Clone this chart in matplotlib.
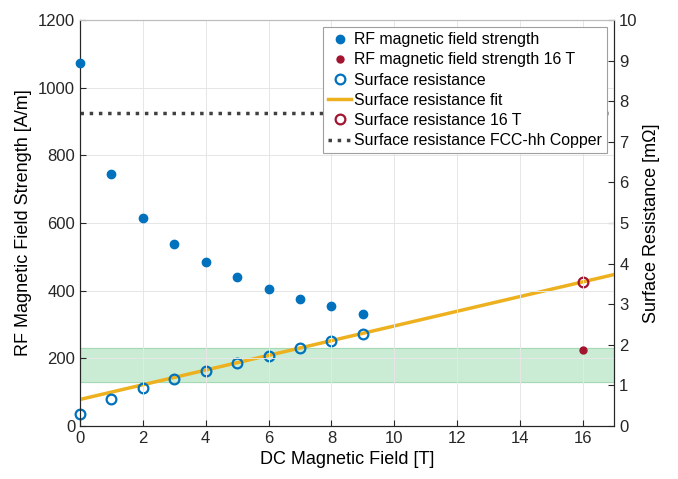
import numpy as np
import matplotlib
matplotlib.use('Agg')
import matplotlib.pyplot as plt
from matplotlib.lines import Line2D

matplotlib.rcParams['font.family'] = ['Liberation Sans', 'DejaVu Sans']

# data
dc_field = [0, 1, 2, 3, 4, 5, 6, 7, 8, 9]
rf_field = [1073, 745, 615, 538, 484, 441, 406, 375, 353, 330]
rs = [0.28, 0.67, 0.93, 1.15, 1.36, 1.54, 1.73, 1.91, 2.08, 2.27]
field_16 = [16]
rf_16 = [225]
rs_16 = [3.54]
fit_x = [0, 17]
fit_y = [0.65, 3.73]
copper_rs = 7.72
band_lo, band_hi = 1.07, 1.92

BLUE = '#0072BD'
RED = '#A2142F'
YELLOW = '#EDB120'
GREEN = '#C5EAD0'

fig = plt.figure(figsize=(6.78, 4.79), dpi=100)
ax = fig.add_axes([0.118, 0.111, 0.788, 0.847])
ax2 = ax.twinx()
# left axis drawn on top of the right one so the RF points sit over the band
ax.set_zorder(ax2.get_zorder() + 1)
ax.patch.set_visible(False)

# left axis: RF field
ax.plot(dc_field, rf_field, 'o', color=BLUE, markersize=6, zorder=5, clip_on=False)
ax.plot(field_16, rf_16, 'o', color=RED, markersize=5, zorder=5, clip_on=False)
ax.set_xlim(0, 17)
ax.set_ylim(0, 1200)
ax.set_xticks(np.arange(0, 17, 2))
ax.set_yticks(np.arange(0, 1201, 200))
ax.grid(True, color='#e6e6e6', linewidth=0.7, zorder=0)
ax.set_xlabel('DC Magnetic Field [T]', fontsize=13)
ax.set_ylabel('RF Magnetic Field Strength [A/m]', fontsize=13)

# right axis: surface resistance
ax2.axhspan(band_lo, band_hi, color=GREEN, alpha=0.9, zorder=0)
ax2.axhline(band_lo, color='#9fd6ae', linewidth=0.6)
ax2.axhline(band_hi, color='#9fd6ae', linewidth=0.6)
ax2.plot(fit_x, fit_y, '-', color=YELLOW, linewidth=2.5, zorder=3)
ax2.plot(dc_field, rs, 'o', mfc='none', mec=BLUE, mew=1.6, markersize=7, zorder=4, clip_on=False)
ax2.plot(field_16, rs_16, 'o', mfc='none', mec=RED, mew=1.6, markersize=7, zorder=4, clip_on=False)
ax2.axhline(copper_rs, color='#404040', linestyle=':', linewidth=2.5, zorder=3)
ax2.set_ylim(0, 10)
ax2.set_yticks(np.arange(0, 11, 1))
ax2.set_ylabel('Surface Resistance [m\u03a9]', fontsize=13)

for a in (ax, ax2):
    a.tick_params(labelsize=12, direction='in', length=4, color='#262626', labelcolor='#262626')
    a.spines['top'].set_color('#bdbdbd')
    a.spines['left'].set_color('#262626')
    a.spines['bottom'].set_color('#262626')
    a.spines['right'].set_color('#262626')

handles = [
    Line2D([], [], marker='o', ls='none', color=BLUE, markersize=6),
    Line2D([], [], marker='o', ls='none', color=RED, markersize=5),
    Line2D([], [], marker='o', ls='none', mfc='none', mec=BLUE, mew=1.6, markersize=7),
    Line2D([], [], color=YELLOW, linewidth=2.5),
    Line2D([], [], marker='o', ls='none', mfc='none', mec=RED, mew=1.6, markersize=7),
    Line2D([], [], color='#404040', linestyle=':', linewidth=2.5),
]
labels = ['RF magnetic field strength', 'RF magnetic field strength 16 T',
          'Surface resistance', 'Surface resistance fit',
          'Surface resistance 16 T', 'Surface resistance FCC-hh Copper']
leg = ax.legend(handles, labels, loc='upper right', bbox_to_anchor=(0.992, 0.99),
                fontsize=11.4, fancybox=False, framealpha=1, edgecolor='#a0a0a0',
                handlelength=1.45, handletextpad=0.2, labelspacing=0.33,
                borderpad=0.3, borderaxespad=0.2)
leg.get_frame().set_linewidth(0.8)
leg.set_zorder(10)

fig.savefig('out.png', dpi=100)
